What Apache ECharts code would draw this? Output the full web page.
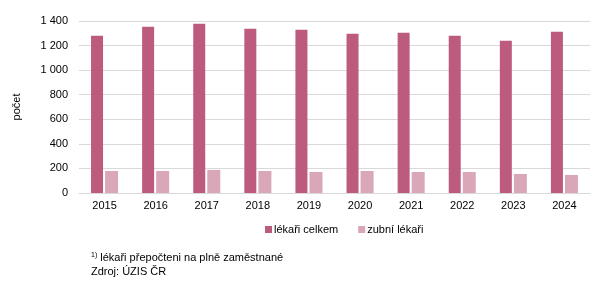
<!DOCTYPE html>
<html><head><meta charset="utf-8">
<script src="https://cdn.jsdelivr.net/npm/echarts@6/dist/echarts.min.js"></script>
<style>html,body{margin:0;padding:0;background:#fff}#c{width:614px;height:291px}</style>
</head><body><div id="c"></div>
<script>
var years = ['2015','2016','2017','2018','2019','2020','2021','2022','2023','2024'];
var lekariCelkem = [1280, 1354, 1378, 1337, 1329, 1296, 1305, 1280, 1239, 1313];
var zubniLekari = [179, 179, 188, 179, 171, 179, 171, 171, 155, 147];
var yTicks = [0, 200, 400, 600, 800, 1000, 1200, 1400];

var font = 'Liberation Sans, Arial, sans-serif';
var chart = echarts.init(document.getElementById('c'));
chart.setOption({
  animation: false,
  textStyle: {fontFamily: font},
  grid: {left: 79, right: 24, top: 21, bottom: 98},
  legend: {
    data: ['lékaři celkem', 'zubní lékaři'],
    top: 219, left: 260,
    itemWidth: 7, itemHeight: 7, itemGap: 20,
    icon: 'rect',
    textStyle: {fontFamily: font, fontSize: 11, color: '#000', padding: [0,0,0,-3]}
  },
  xAxis: {
    type: 'category', data: years,
    axisLine: {lineStyle: {color: '#d9d9d9'}},
    axisTick: {show: false},
    axisLabel: {color: '#000', fontSize: 11, fontFamily: font, margin: 7}
  },
  yAxis: {
    type: 'value', min: 0, max: 1400, interval: 200,
    name: 'počet', nameLocation: 'middle', nameGap: 57, nameRotate: 90,
    nameTextStyle: {color: '#000', fontSize: 11, fontFamily: font},
    splitLine: {lineStyle: {color: '#d9d9d9'}},
    axisLine: {show: false},
    axisTick: {show: false},
    axisLabel: {color: '#000', fontSize: 11, fontFamily: font, margin: 11,
      formatter: function(v){ return yTicks.indexOf(v) >= 0 ? String(v).replace(/\B(?=(\d{3})+(?!\d))/g, ' ') : ''; }}
  },
  series: [
    {name: 'lékaři celkem', type: 'bar', data: lekariCelkem, barWidth: 12, barGap: '17%',
     itemStyle: {color: '#bc5b7e'}},
    {name: 'zubní lékaři', type: 'bar', data: zubniLekari, barWidth: 13,
     itemStyle: {color: '#d9a7b8'}}
  ],
  graphic: [
    {type: 'text', left: 91, top: 252, style: {
      text: '{s|1)} lékaři přepočteni na plně zaměstnané',
      rich: {s: {fontSize: 7, verticalAlign: 'top', fontFamily: font, fill: '#000'}},
      font: '11px ' + font, fill: '#000'}},
    {type: 'text', left: 91, top: 266, style: {
      text: 'Zdroj: ÚZIS ČR', font: '11px ' + font, fill: '#000'}}
  ]
});
</script>
</body></html>
